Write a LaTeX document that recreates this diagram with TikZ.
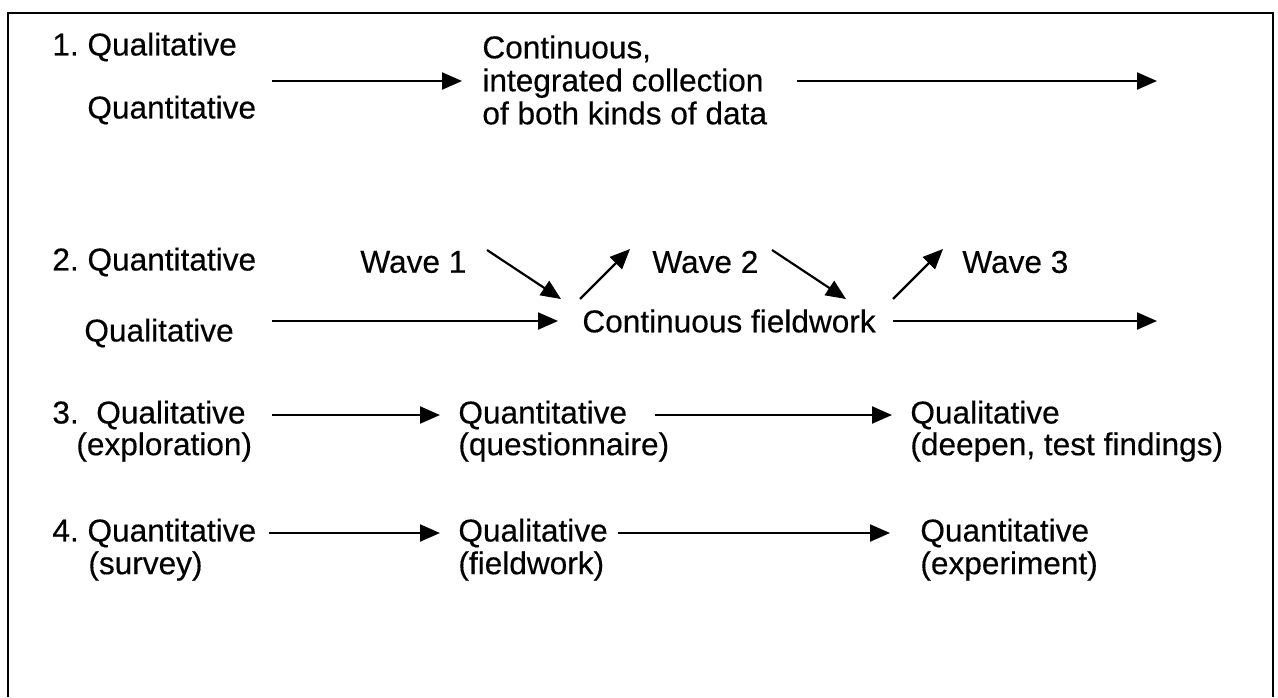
\documentclass[tikz,border=0pt]{standalone}
\usepackage{fontspec}
\setmainfont[FakeBold=0.35]{Liberation Sans}
\usetikzlibrary{arrows.meta}
\frenchspacing
\begin{document}
\begin{tikzpicture}[x=0.5pt,y=-0.5pt,
  lbl/.style={anchor=west,inner sep=0pt,font=\fontsize{15.8}{16.5}\selectfont},
  ml/.style={lbl,align=left},
  arr/.style={line width=1.1pt,-{Triangle[length=10pt,width=8.5pt]}},
  frame/.style={line width=1.1pt}]
\useasboundingbox (0,0) rectangle (1278,697);
\draw[frame] (8,697) -- (8,13) -- (1273,13) -- (1273,697);
% Row 1
\node[lbl] (r1a) at (52,47) {1. Qualitative};
\node[lbl] (r1b) at (87,110) {Quantitative};
\node[ml] (r1c) at (482,80) {Continuous,\\integrated collection\\of both kinds of data};
\coordinate (r1s) at (272,81);
\coordinate (r1e) at (1157,81);
\draw[arr] (r1s) -- ([xshift=-10pt]r1c.west |- r1s);
\draw[arr] ([xshift=15pt]r1c.east |- r1e) -- (r1e);
% Row 2
\node[lbl] (r2a) at (52,262) {2. Quantitative};
\node[lbl] (w1) at (360,262) {Wave 1};
\node[lbl] (w2) at (652,262) {Wave 2};
\node[lbl] (w3) at (962,262) {Wave 3};
\node[lbl] (r2b) at (84,333) {Qualitative};
\node[lbl] (cf) at (582,321) {Continuous fieldwork};
\coordinate (r2e) at (1157,321);
\coordinate (d1s) at (487,250); \coordinate (d1e) at (561,299);
\coordinate (u1s) at (580,299); \coordinate (u1e) at (630,249);
\coordinate (d2s) at (772,250); \coordinate (d2e) at (846,299);
\coordinate (u2s) at (893,299); \coordinate (u2e) at (943,249);
\draw[arr] ([xshift=19pt]r2b.east |- cf.west) -- ([xshift=-12pt]cf.west);
\draw[arr] ([xshift=8.5pt]cf.east) -- (cf.east -| r2e);
\draw[arr] (d1s) -- (d1e);
\draw[arr] (u1s) -- (u1e);
\draw[arr] (d2s) -- (d2e);
\draw[arr] (u2s) -- (u2e);
% Row 3
\node[lbl] (r3a) at (52,415) {3. \ Qualitative};
\node[lbl] (r3b) at (76,447) {(exploration)};
\node[lbl] (r3c) at (458,415) {Quantitative};
\node[lbl] (r3d) at (458,447) {(questionnaire)};
\node[lbl] (r3e) at (910,415) {Qualitative};
\node[lbl] (r3f) at (910,447) {(deepen, test findings)};
\draw[arr] ([xshift=13pt]r3a.east) -- ([xshift=-9pt]r3c.west);
\draw[arr] ([xshift=14pt]r3c.east) -- ([xshift=-9pt]r3e.west);
% Row 4
\node[lbl] (r4a) at (52,533) {4. Quantitative};
\node[lbl] (r4b) at (88,566) {(survey)};
\node[lbl] (r4c) at (458,533) {Qualitative};
\node[lbl] (r4d) at (458,566) {(fieldwork)};
\node[lbl] (r4e) at (920,533) {Quantitative};
\node[lbl] (r4f) at (920,566) {(experiment)};
\draw[arr] ([xshift=6pt]r4a.east) -- ([xshift=-9pt]r4c.west);
\draw[arr] ([xshift=5pt]r4c.east) -- ([xshift=-15pt]r4e.west);
\end{tikzpicture}
\end{document}
